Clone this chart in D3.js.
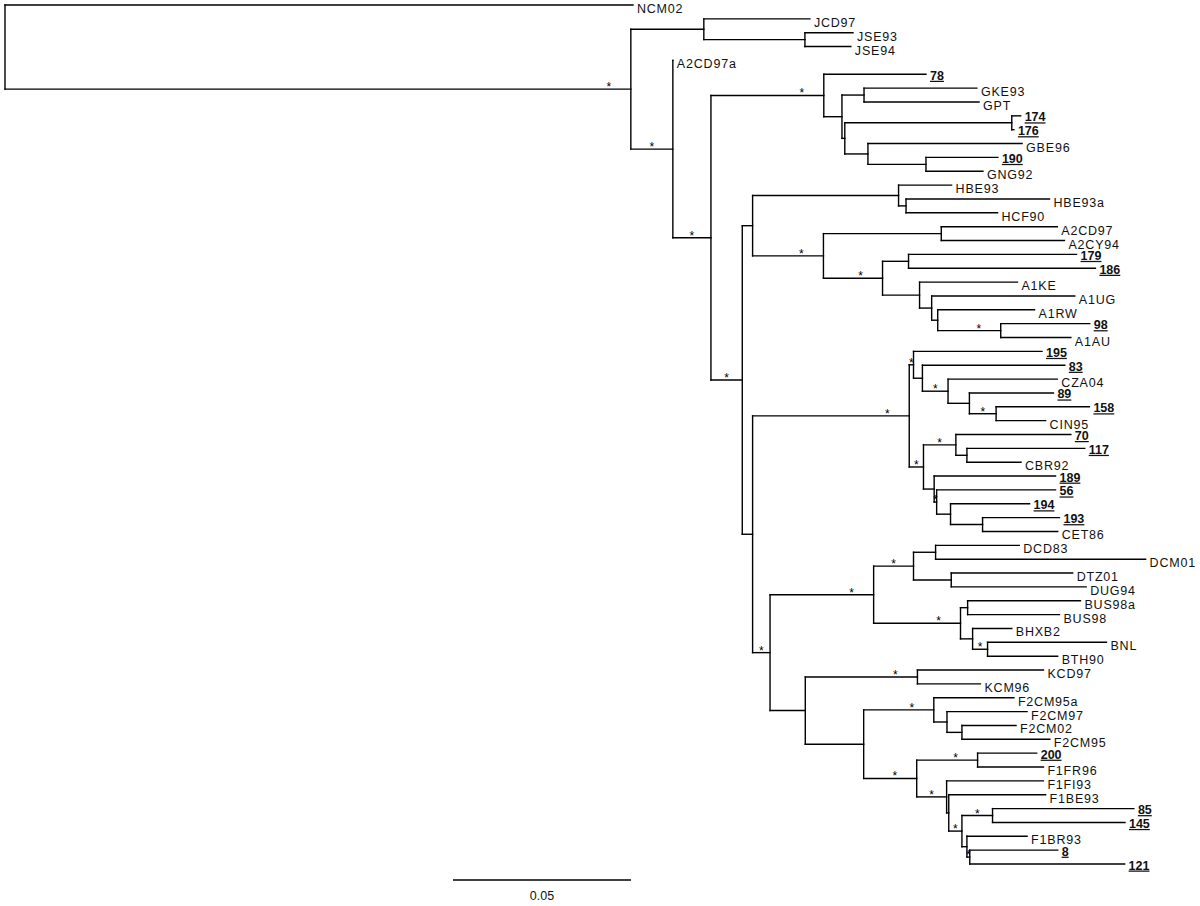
<!DOCTYPE html>
<html><head><meta charset="utf-8">
<script src="https://cdn.jsdelivr.net/npm/d3@7"></script>
<style>
body{margin:0;background:#fff}
text{font-family:"Liberation Sans",Arial,sans-serif}
</style>
</head><body>
<svg id="chart" width="1200" height="906"></svg>
<script>
// Tree edges in pre-order: [node, parent, branch length (substitutions/site)]
const edges = [
["root",null,0],
["NCM02","root",0.1764],
["n1","root",0.1758],
["nJ","n1",0.0205],
["JCD97","nJ",0.0298],
["nJS","nJ",0.0284],
["JSE93","nJS",0.0135],
["JSE94","nJS",0.0129],
["nB","n1",0.0118],
["A2CD97a","nB",0],
["nC","nB",0.0107],
["nG","nC",0.0317],
["78","nG",0.0287],
["nG1","nG",0.0051],
["nGK","nG1",0.0062],
["GKE93","nGK",0.0317],
["GPT","nGK",0.0323],
["nG2","nG1",0.0008],
["n174","nG2",0.0469],
["174","n174",0.0025],
["176","n174",0.0006],
["nGB","nG2",0.0065],
["GBE96","nGB",0.0433],
["n190","nGB",0.0163],
["190","n190",0.0202],
["GNG92","n190",0.0160],
["nD","nC",0.0088],
["nHA","nD",0.0029],
["nH","nHA",0.0410],
["HBE93","nH",0.0149],
["nH2","nH",0.0021],
["HBE93a","nH2",0.0403],
["HCF90","nH2",0.0257],
["nA","nHA",0.0199],
["nA2","nA",0.0331],
["A2CD97","nA2",0.0326],
["A2CY94","nA2",0.0346],
["nA1","nA",0.0166],
["n179","nA1",0.0073],
["179","n179",0.0472],
["186","n179",0.0525],
["nA1b","nA1",0.0104],
["A1KE","nA1b",0.0275],
["nA1c","nA1b",0.0034],
["A1UG","nA1c",0.0402],
["nA1d","nA1c",0.0017],
["A1RW","nA1d",0.0272],
["n98","nA1d",0.0177],
["98","n98",0.0250],
["A1AU","n98",0.0197],
["nE","nD",0.0029],
["nCc","nE",0.0440],
["nC195","nCc",0.0012],
["195","nC195",0.0361],
["n83","nC195",0.0025],
["83","n83",0.0400],
["nCZ","n83",0.0072],
["CZA04","nCZ",0.0307],
["n89","nCZ",0.0060],
["89","n89",0.0236],
["n158","n89",0.0075],
["158","n158",0.0262],
["CIN95","n158",0.0139],
["nC70b","nCc",0.0040],
["n70","nC70b",0.0091],
["70","n70",0.0323],
["n117","n70",0.0031],
["117","n117",0.0331],
["CBR92","n117",0.0152],
["n189","nC70b",0.0030],
["189","n189",0.0341],
["n56","n189",0.0007],
["56","n56",0.0334],
["n194","n56",0.0039],
["194","n194",0.0222],
["n193","n194",0.0090],
["193","n193",0.0216],
["CET86","n193",0.0211],
["nDB","nE",0.0049],
["nDBc","nDB",0.0291],
["nDd","nDBc",0.0112],
["nDC","nDd",0.0062],
["DCD83","nDC",0.0235],
["DCM01","nDC",0.0590],
["nDT","nDd",0.0106],
["DTZ01","nDT",0.0341],
["DUG94","nDT",0.0379],
["nBc","nDBc",0.0244],
["nBUS","nBc",0.0020],
["BUS98a","nBUS",0.0317],
["BUS98","nBUS",0.0258],
["nBH","nBc",0.0034],
["BHXB2","nBH",0.0110],
["nBNL","nBH",0.0042],
["BNL","nBNL",0.0334],
["BTH90","nBNL",0.0197],
["nKF","nDB",0.0099],
["nK","nKF",0.0315],
["KCD97","nK",0.0354],
["KCM96","nK",0.0177],
["nF","nKF",0.0164],
["nF2","nF",0.0197],
["F2CM95a","nF2",0.0225],
["nF2b","nF2",0.0037],
["F2CM97","nF2b",0.0225],
["nF2c","nF2b",0.0042],
["F2CM02","nF2c",0.0152],
["F2CM95","nF2c",0.0247],
["nF1","nF",0.0149],
["n200","nF1",0.0171],
["200","n200",0.0166],
["F1FR96","n200",0.0185],
["nF1b","nF1",0.0084],
["F1FI93","nF1b",0.0272],
["nF1c","nF1b",0.0006],
["F1BE93","nF1c",0.0272],
["nF1d","nF1c",0.0037],
["n85","nF1d",0.0086],
["85","n85",0.0397],
["145","n85",0.0372],
["nF1e","nF1d",0.0014],
["F1BR93","nF1e",0.0169],
["n8","nF1e",0.0008],
["8","n8",0.0247],
["121","n8",0.0435]
];

// Internal nodes marked with an asterisk (supported clusters)
const supportedNodes = ["n1","nB","nC","nG","nD","nA","nA1","n98","nCc","nC195","nCZ","n158",
  "nC70b","n70","n56","nDB","nDBc","nDd","nBc","nBNL","nK","nF2","nF1","n200","nF1b","nF1d","n85","n8"];

// Study isolates shown in bold, underlined
const studyIsolates = ["78","174","176","190","179","186","98","195","83","89","158","70","117",
  "189","56","194","193","200","85","145","8","121"];

const scaleBarValue = 0.05;
const scaleBarLabel = "0.05";

// ---------- drawing ----------
const svg = d3.select("#chart");
const root = d3.stratify()
  .id(d => d[0])
  .parentId(d => d[1])(edges);

root.eachBefore(d => { d.depth_ = d.parent ? d.parent.depth_ + d.data[2] : 0; });

const xScale = d3.scaleLinear().domain([0, 0.3]).range([5, 5 + 0.3 * 3560]);
const leaves = root.leaves();
const yScale = d3.scaleLinear().domain([0, leaves.length - 1]).range([5, 864]);
leaves.forEach((d, i) => { d.py = yScale(i); });
root.eachAfter(d => {
  if (d.children) d.py = (d.children[0].py + d.children[d.children.length - 1].py) / 2;
});
root.each(d => { d.px = xScale(d.depth_); });

const g = svg.append("g");
const stroke = "#000", sw = 1.4;

// horizontal branches
g.selectAll("line.h").data(root.descendants().filter(d => d.parent))
  .join("line").attr("class", "h")
  .attr("x1", d => d.parent.px).attr("x2", d => d.px)
  .attr("y1", d => d.py).attr("y2", d => d.py)
  .attr("stroke", stroke).attr("stroke-width", sw).attr("stroke-linecap", "square");

// vertical connectors
g.selectAll("line.v").data(root.descendants().filter(d => d.children))
  .join("line").attr("class", "v")
  .attr("x1", d => d.px).attr("x2", d => d.px)
  .attr("y1", d => d.children[0].py).attr("y2", d => d.children[d.children.length - 1].py)
  .attr("stroke", stroke).attr("stroke-width", sw).attr("stroke-linecap", "square");

// support asterisks
const supSet = new Set(supportedNodes);
g.selectAll("text.star").data(root.descendants().filter(d => supSet.has(d.id)))
  .join("text").attr("class", "star")
  .attr("x", d => d.px - Math.min(22, (d.px - d.parent.px) / 2))
  .attr("y", d => d.py + 2)
  .attr("text-anchor", "middle")
  .attr("font-size", 12).attr("fill", "#000")
  .text("*");

// tip labels
const boldSet = new Set(studyIsolates);
g.selectAll("text.tip").data(leaves)
  .join("text").attr("class", "tip")
  .attr("x", d => d.px + 4)
  .attr("y", d => d.py + (boldSet.has(d.id) ? 5.5 : 8))
  .attr("font-size", d => boldSet.has(d.id) ? 12.5 : 12.5)
  .attr("font-weight", d => boldSet.has(d.id) ? "bold" : "normal")
  .attr("text-decoration", d => boldSet.has(d.id) ? "underline" : null)
  .attr("letter-spacing", d => boldSet.has(d.id) ? 0 : 0.8)
  .attr("fill", "#111")
  .text(d => d.id);

// scale bar
const barX = 453, barY = 880;
const barLen = xScale(scaleBarValue) - xScale(0);
svg.append("line")
  .attr("x1", barX).attr("x2", barX + barLen)
  .attr("y1", barY).attr("y2", barY)
  .attr("stroke", stroke).attr("stroke-width", sw);
svg.append("text")
  .attr("x", barX + barLen / 2).attr("y", 900)
  .attr("text-anchor", "middle").attr("font-size", 12.5).attr("fill", "#111")
  .text(scaleBarLabel);
</script>
</body></html>
